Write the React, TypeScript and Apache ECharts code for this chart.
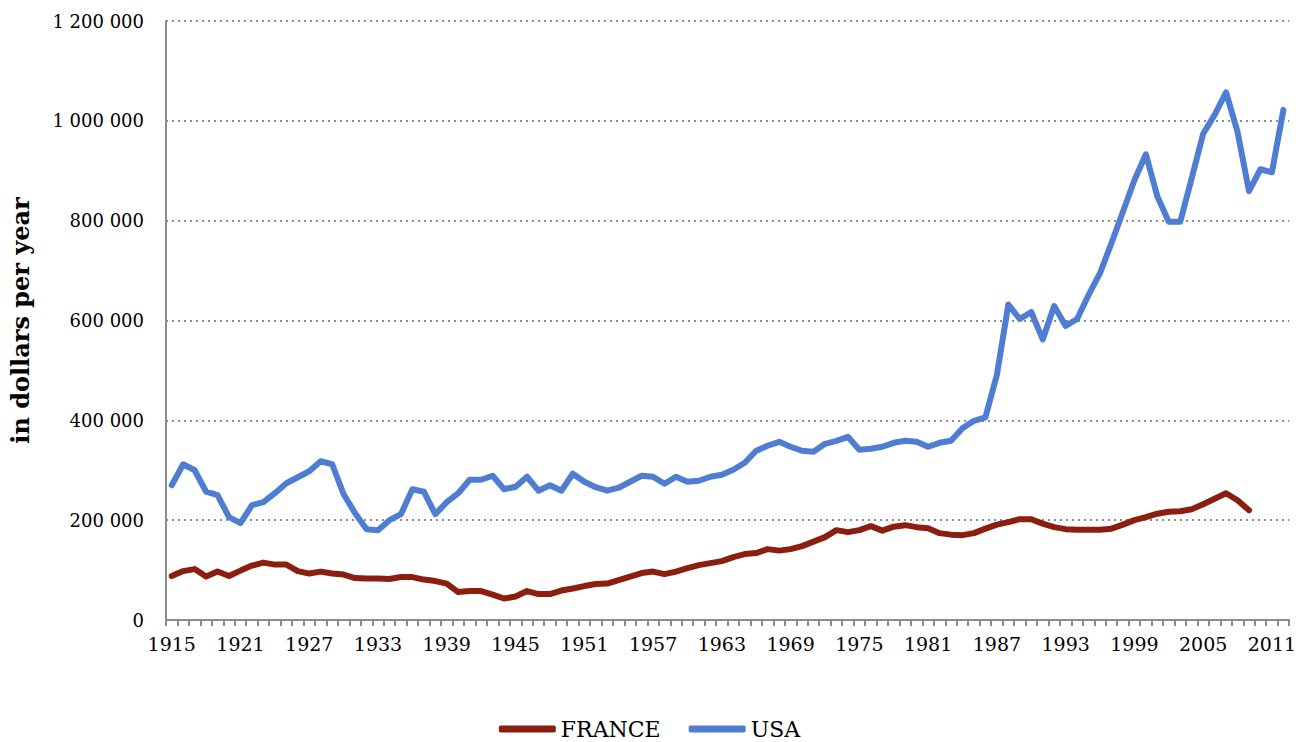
import React, { useEffect, useRef } from "react";
import * as echarts from "echarts";

const years: string[] = [];
for (let y = 1915; y <= 2012; y++) years.push(String(y));

// thousands of dollars per year
const franceK = [
  88, 98, 102, 87, 97, 88, 99, 109, 115, 111, 111, 98, 93, 97, 93, 91, 84, 83, 83, 82,
  86, 86, 81, 78, 73, 56, 58, 58, 51, 43, 47, 58, 52, 52, 59, 63, 68, 72, 73, 80,
  87, 94, 97, 92, 97, 104, 110, 114, 118, 126, 132, 134, 142, 139, 142, 148, 157, 166, 180, 176,
  180, 188, 179, 187, 190, 186, 184, 174, 171, 170, 174, 183, 191, 196, 202, 202, 193, 186, 182, 181,
  181, 181, 183, 191, 200, 206, 213, 217, 218, 222, 232, 243, 254, 240, 220,
];
const usaK = [
  270, 312, 300, 257, 250, 206, 194, 230, 236, 254, 274, 286, 298, 318, 312, 252, 214, 182, 180, 200,
  212, 262, 257, 212, 236, 254, 281, 281, 289, 262, 267, 287, 259, 270, 259, 293, 277, 266, 259, 265,
  277, 289, 287, 273, 287, 277, 279, 287, 291, 301, 315, 339, 349, 357, 347, 339, 337, 353, 359, 367,
  341, 343, 347, 355, 359, 357, 347, 355, 359, 384, 399, 406, 491, 632, 603, 617, 562, 629, 589, 603,
  651, 695, 755, 818, 881, 933, 849, 798, 798, 885, 974, 1012, 1057, 978, 859, 903, 897, 1022,
];

const franceValues = franceK.map((v) => v * 1000);
const usaValues = usaK.map((v) => v * 1000);

const FONT = "DejaVu Serif";

export default function App() {
  const ref = useRef<HTMLDivElement>(null);
  useEffect(() => {
    document.body.style.margin = "0";
    const chart = echarts.init(ref.current!, undefined, { renderer: "svg" });
    const fmt = (v: number) => String(v).replace(/\B(?=(\d{3})+(?!\d))/g, " ");
    chart.setOption({
      animation: false,
      backgroundColor: "#ffffff",
      grid: { left: 160, right: 9, top: 21, bottom: 122 },
      legend: {
        top: 713,
        left: "center",
        icon: "roundRect",
        itemWidth: 57,
        itemHeight: 7,
        itemGap: 28,
        textStyle: { fontFamily: FONT, fontSize: 22, color: "#000" },
        data: ["FRANCE", "USA"],
      },
      xAxis: {
        type: "category",
        data: years,
        boundaryGap: true,
        axisLine: { lineStyle: { color: "#8c8c8c", width: 2 } },
        axisTick: { show: true, interval: 0, length: 6, lineStyle: { color: "#8c8c8c", width: 2 } },
        axisLabel: { interval: 5, margin: 14, fontFamily: FONT, fontSize: 19, color: "#000" },
        splitLine: { show: false },
      },
      yAxis: {
        type: "value",
        min: 0,
        max: 1200000,
        interval: 200000,
        name: "in dollars per year",
        nameLocation: "middle",
        nameRotate: 90,
        nameGap: 134,
        nameTextStyle: { fontFamily: FONT, fontSize: 24, fontWeight: "bold", color: "#000" },
        axisLine: { show: true, lineStyle: { color: "#8c8c8c", width: 2 } },
        axisTick: { show: false },
        axisLabel: { margin: 22, fontFamily: FONT, fontSize: 18, color: "#000", formatter: fmt },
        splitLine: { show: true, lineStyle: { color: "#8c8c8c", width: 2, type: [2, 4] } },
      },
      series: [
        {
          name: "FRANCE",
          type: "line",
          data: franceValues,
          showSymbol: false,
          symbol: "none",
          color: "#8B1E0F",
          lineStyle: { width: 6, color: "#8B1E0F", cap: "round", join: "round" },
        },
        {
          name: "USA",
          type: "line",
          data: usaValues,
          showSymbol: false,
          symbol: "none",
          color: "#4E7DD2",
          lineStyle: { width: 6, color: "#4E7DD2", cap: "round", join: "round" },
        },
      ],
    });
    return () => chart.dispose();
  }, []);
  return <div ref={ref} style={{ width: 1299, height: 742 }} />;
}
